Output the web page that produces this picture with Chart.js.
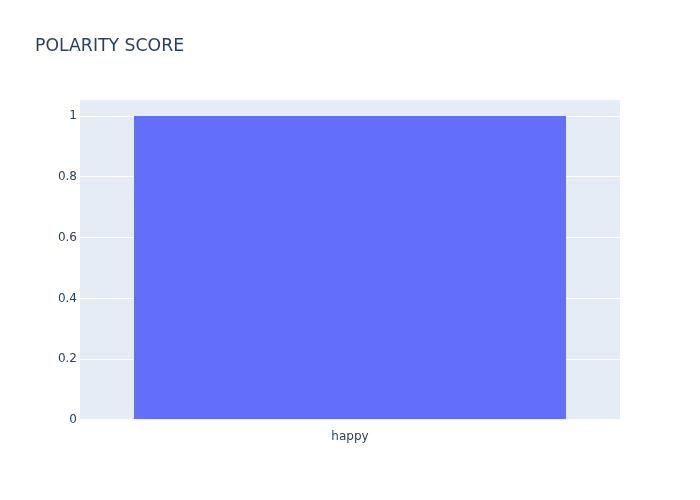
<!DOCTYPE html>
<html>
<head>
<meta charset="utf-8">
<script src="https://cdn.jsdelivr.net/npm/chart.js@4/dist/chart.umd.min.js"></script>
<style>
    html, body { margin: 0; padding: 0; background: #fff; }
    #wrap { position: relative; width: 700px; height: 500px; }
    #title {
        position: absolute; left: 35px; top: 35px;
        font-family: "DejaVu Sans", sans-serif;
        font-size: 17.3px; color: #2a3f5f;
    }
    canvas { position: absolute; left: 0; top: 0; }
</style>
</head>
<body>
<div id="wrap">
    <canvas id="chart" width="700" height="500"></canvas>
    <div id="title">POLARITY SCORE</div>
</div>
<script>
// chart data
const categories = ['happy'];
const polarity = [1];
const yTickValues = [0, 0.2, 0.4, 0.6, 0.8, 1];

document.addEventListener('DOMContentLoaded', () => {
    // plot background like plotly
    const plotBg = {
        id: 'plotBg',
        beforeDraw(chart) {
            const { ctx, chartArea: a } = chart;
            ctx.save();
            ctx.fillStyle = '#e5ecf6';
            ctx.fillRect(a.left, a.top, a.right - a.left, a.bottom - a.top);
            ctx.restore();
        }
    };

    const font = { family: '"DejaVu Sans", sans-serif', size: 12 };

    new Chart(document.getElementById('chart'), {
        type: 'bar',
        data: {
            labels: categories,
            datasets: [{
                data: polarity,
                backgroundColor: '#636efa',
                categoryPercentage: 1,
                barPercentage: 0.8
            }]
        },
        options: {
            responsive: false,
            animation: false,
            events: [],
            layout: { padding: { top: 100, right: 80, bottom: 0, left: 0 } },
            plugins: { legend: { display: false }, tooltip: { enabled: false } },
            scales: {
                x: {
                    grid: { display: false },
                    border: { display: false },
                    ticks: { color: '#2a3f5f', font, padding: 2 },
                    afterFit(scale) { scale.height = 80; }
                },
                y: {
                    min: 0,
                    max: 1.053,
                    afterBuildTicks(scale) {
                        scale.ticks = yTickValues.map(v => ({ value: v }));
                    },
                    grid: {
                        color: '#ffffff',
                        lineWidth: ctx => (ctx.tick && ctx.tick.value === 0 ? 2 : 1),
                        drawTicks: false
                    },
                    border: { display: false },
                    ticks: {
                        color: '#2a3f5f', font, padding: 3,
                        callback: v => String(+(+v).toFixed(1))
                    },
                    afterFit(scale) { scale.width = 80; }
                }
            }
        },
        plugins: [plotBg]
    });
});
</script>
</body>
</html>
